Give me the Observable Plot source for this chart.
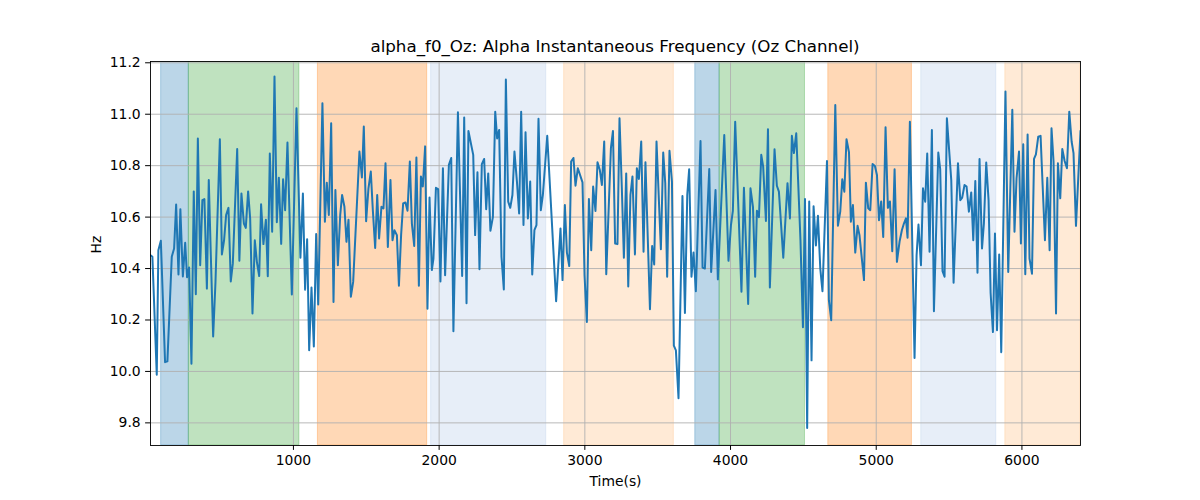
<!DOCTYPE html>
<html>
<head>
<meta charset="utf-8">
<script src="https://cdn.jsdelivr.net/npm/d3@7"></script>
<script src="https://cdn.jsdelivr.net/npm/@observablehq/plot@0.6"></script>
<style>
  body { margin: 0; background: white; }
  #wrap { position: relative; width: 1200px; height: 500px; font-family: "DejaVu Sans", sans-serif; }
  #title { position: absolute; left: 150px; width: 930px; top: 35px; line-height: 22px; font-size: 16.7px; text-align: center; color: black; z-index: 2; }
  #chart { position: absolute; left: 0; top: 36px; z-index: 1; }
</style>
</head>
<body>
<div id="wrap">
  <div id="chart"></div>
  <div id="title">alpha_f0_Oz: Alpha Instantaneous Frequency (Oz Channel)</div>
</div>
<script>
// sample times (s) and instantaneous alpha frequency (Hz)
const timeS = [
  19,32,62,73,90,119,135,165,181,195,211,224,241,257,270,284,300,316,330,344,
  360,375,389,406,419,433,449,465,495,509,524,538,554,570,584,614,629,643,660,673,
  689,703,719,735,749,765,778,794,811,824,838,854,870,886,900,916,929,943,959,989,1021,
  1048,1065,1080,1094,1108,1124,1140,1156,1170,1199,1216,1229,1243,1259,1275,1288,1305,1321,1334,1350,
  1364,1378,1394,1410,1453,1470,1483,1499,1515,1531,1545,1561,1575,1588,1604,1618,1632,1648,1666,1680,
  1693,1710,1724,1739,1753,1769,1783,1799,1813,1829,1844,1861,1875,1888,1904,1920,1934,1950,1961,1978,
  1993,2009,2026,2041,2067,2083,2098,
  2129,2158,2172,2188,2201,2234,2247,2263,2277,2293,2309,2323,2337,2352,2369,2385,2398,2412,2428,2444,
  2458,2474,2488,2503,2517,2534,2549,2563,2579,2593,2609,2625,2639,2654,2668,2682,2698,2712,2742,2803,
  2833,2847,2863,2877,2893,2906,2922,2936,2952,2984,2998,3014,3028,3044,3057,3073,3087,3103,3117,3133,
  3147,3179,3193,3208,3224,3238,3254,3268,3284,3298,3313,3327,3344,3357,3371,3387,3403,3416,3447,3462,
  3476,3492,3522,3538,3552,3565,3581,3598,3611,3625,3643,3670,3687,3703,3716,3732,3746,3762,3794,3808,
  3824,3854,3867,3897,3913,3957,3986,4003,4016,4032,4075,4092,4121,4137,4154,4169,
  4181,4195,4211,4224,4243,4257,4270,4302,4318,4332,4362,4391,4408,4421,4435,4451,4480,4497,4511,4526,
  4540,4556,4570,4586,4600,4616,4631,4662,4675,4691,4719,4737,4753,4767,4781,4796,4813,4826,4840,4856,
  4872,4885,4916,4929,4945,4959,4975,4991,5005,5019,5034,5048,5064,5080,5094,5110,5126,5142,
  5160,5176,5190,5204,5215,5231,5263,5277,5290,5307,5321,5336,5350,5366,5382,5396,5426,5439,5455,5469,
  5485,5515,5531,5561,5577,5590,5606,5620,5636,5652,5666,5680,5695,5709,5726,5739,5755,5771,5785,5801,
  5815,5829,5844,5858,5887,5906,5934,5949,5963,5980,5993,6009,6023,6039,6052,6069,6083,6096,6112,6128,
  6142,6158,6174,6190,6203,
  6217,6234,6247,6263,6277,6293,6309,6325,6341,6354,6371,6402
];
const alphaHz = [
  10.452,10.446,9.987,10.471,10.508,10.036,10.039,10.446,10.478,10.649,10.377,10.631,10.369,10.50,10.366,10.404,10.03,10.70,10.30,10.906,
  10.413,10.666,10.67,10.322,10.744,10.452,10.136,10.348,10.903,10.455,10.51,10.608,10.636,10.35,10.42,10.865,10.43,10.692,10.575,10.558,
  10.70,10.595,10.225,10.51,10.426,10.371,10.65,10.495,10.59,10.37,10.847,10.543,11.147,10.58,10.753,10.496,10.747,10.627,10.89,10.299,11.023,
  10.442,10.692,10.318,10.514,10.082,10.326,10.097,10.534,10.26,11.043,10.582,10.734,10.608,10.965,10.27,10.705,10.413,10.608,10.686,10.64,
  10.504,10.59,10.29,10.348,10.855,10.754,10.952,10.584,10.712,10.777,10.627,10.48,10.686,10.517,10.64,10.634,10.809,10.484,10.744,10.51,
  10.549,10.53,10.333,10.53,10.653,10.657,10.625,10.816,10.575,10.488,10.832,10.333,10.758,10.719,10.875,10.244,10.676,10.394,10.439,10.714,
  10.709,10.35,10.79,10.374,10.803,10.83,10.156,
  11.008,10.371,10.987,10.265,10.935,10.842,10.53,10.774,10.397,10.806,10.826,10.631,10.77,10.547,10.60,11.01,10.906,10.939,10.445,10.319,
  11.135,10.66,10.636,10.686,10.855,10.738,10.614,11.01,10.569,10.93,10.595,10.738,10.377,10.549,10.569,10.982,10.627,10.686,10.916,10.273,
  10.556,10.355,10.647,10.462,10.41,10.816,10.83,10.722,10.79,10.735,10.374,10.192,10.67,10.471,10.719,10.624,10.813,10.783,10.725,10.894,
  10.378,10.868,10.935,10.497,10.495,10.984,10.712,10.442,10.77,10.33,10.686,10.758,10.455,10.79,10.748,10.894,10.465,10.813,10.242,10.488,
  10.416,10.894,10.475,10.851,10.732,10.368,10.858,10.738,10.10,10.082,9.896,10.682,10.227,10.686,10.786,10.368,10.462,10.312,10.896,10.404,
  10.40,10.787,10.387,10.705,10.358,10.919,10.43,10.569,10.624,10.971,10.31,10.714,10.262,10.712,10.64,10.368,
  10.625,10.60,10.842,10.796,10.585,10.942,10.326,10.864,10.722,10.699,10.442,10.732,10.595,10.916,10.849,10.926,10.51,10.172,10.67,9.78,
  10.661,10.043,10.642,10.49,10.605,10.40,10.312,10.818,10.277,10.199,11.036,10.566,10.621,10.747,10.699,10.903,10.852,10.582,10.647,10.462,
  10.566,10.53,10.355,10.734,10.634,10.627,10.806,10.799,10.764,10.588,10.661,10.523,10.949,10.636,10.661,10.467,10.786,10.426,
  10.504,10.549,10.575,10.595,10.52,10.971,10.052,10.452,10.571,10.413,10.712,10.66,10.847,10.465,10.939,10.234,10.851,10.787,10.39,10.368,
  10.984,10.744,10.345,10.809,10.666,10.676,10.725,10.719,10.621,10.696,10.51,10.74,10.384,10.826,10.478,10.575,10.812,10.666,10.306,10.153,
  10.536,10.16,10.455,10.075,11.088,10.387,11.017,10.543,10.75,10.855,10.497,10.883,10.378,10.921,10.439,10.38,10.826,10.844,10.913,10.916,
  10.725,10.51,10.753,10.471,10.945,
  10.816,10.225,10.809,10.673,10.865,10.818,10.79,11.01,10.894,10.849,10.566,10.935
];

// shaded segments: start, end, kind
const bandStart = [92, 282, 1168, 1945, 2858, 3758, 3925, 4671, 5309, 5886];
const bandEnd   = [282, 1041, 1918, 2735, 3611, 3925, 4511, 5245, 5824, 6402];
const bandKind  = [0, 1, 2, 3, 4, 0, 1, 2, 3, 4];

const xTicks = [1000, 2000, 3000, 4000, 5000, 6000];
const yTicks = [9.8, 10.0, 10.2, 10.4, 10.6, 10.8, 11.0, 11.2];

const kindColors = ["#1f77b4", "#2ca02c", "#ff7f0e", "#aec7e8", "#ffbb78"];

const series = timeS.map((t, i) => ({t, hz: alphaHz[i]}));
const bands = bandStart.map((s, i) => ({s, e: bandEnd[i], c: kindColors[bandKind[i]]}));

const chart = Plot.plot({
  width: 1200,
  height: 464,
  marginLeft: 150,
  marginRight: 120,
  marginTop: 25,
  marginBottom: 55,
  style: {fontFamily: "DejaVu Sans", fontSize: "13.9px", background: "transparent", color: "black"},
  x: {domain: d3.extent(timeS), ticks: xTicks, tickFormat: d3.format("d"), tickSize: 4.9, tickPadding: 4.9, label: null},
  y: {domain: [9.712, 11.205], ticks: yTicks, tickFormat: d3.format(".1f"), tickSize: 4.9, tickPadding: 4.9, label: null},
  marks: [
    Plot.rect(bands, {x1: "s", x2: "e", fill: "c", fillOpacity: 0.3, stroke: "c", strokeOpacity: 0.3, strokeWidth: 1, clip: true}),
    Plot.ruleX(xTicks, {stroke: "#b0b0b0", strokeWidth: 0.9}),
    Plot.ruleY(yTicks, {stroke: "#b0b0b0", strokeWidth: 0.9}),
    Plot.line(series, {x: "t", y: "hz", stroke: "#1f77b4", strokeWidth: 2, clip: true}),
    Plot.frame({stroke: "black", strokeWidth: 0.9}),
    Plot.text(["Time(s)"], {frameAnchor: "bottom", dy: 40, fontSize: 13.9}),
    Plot.text(["Hz"], {frameAnchor: "left", dx: -54, rotate: -90, fontSize: 13.9})
  ]
});

d3.select("#chart").append(() => chart);
</script>
</body>
</html>
